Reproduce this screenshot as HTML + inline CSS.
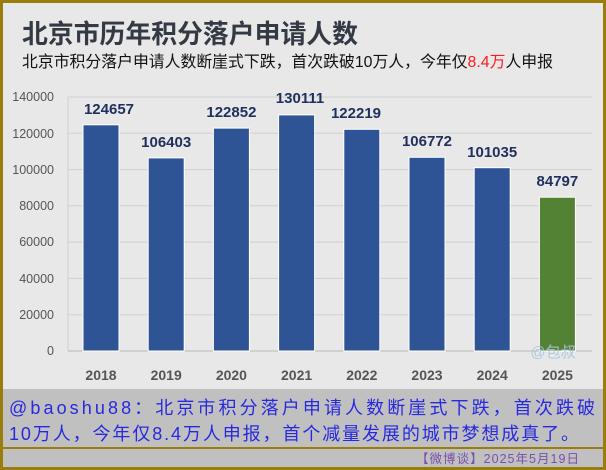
<!DOCTYPE html>
<html><head><meta charset="utf-8"><style>
body{margin:0;width:606px;height:470px;overflow:hidden;background:#9a7d0c;}
svg{display:block}
</style></head><body>
<svg width="606" height="470" xmlns="http://www.w3.org/2000/svg" font-family="'Liberation Sans','Noto Sans CJK SC',sans-serif">
<rect x="0" y="0" width="606" height="470" fill="#9a7d0c"/>
<rect x="3" y="3" width="600" height="386" fill="#e8e8e8"/>
<rect x="3" y="389" width="600" height="58" fill="#c0c0c0"/>
<rect x="3" y="447" width="600" height="2" fill="#9a7d0c"/>
<rect x="3" y="449" width="600" height="18" fill="#c0c0c0"/>
<text x="22" y="43" font-size="26" font-weight="bold" fill="#333a44" textLength="336" lengthAdjust="spacingAndGlyphs">北京市历年积分落户申请人数</text>
<text x="22" y="67" font-size="16" fill="#111" textLength="531" lengthAdjust="spacingAndGlyphs">北京市积分落户申请人数断崖式下跌，首次跌破10万人，今年仅<tspan fill="#ff1a1a">8.4万</tspan>人申报</text>
<g stroke="#cfcfcf" stroke-width="1">
<line x1="68" x2="592" y1="97" y2="97"/><line x1="68" x2="592" y1="133.3" y2="133.3"/><line x1="68" x2="592" y1="169.6" y2="169.6"/><line x1="68" x2="592" y1="205.8" y2="205.8"/><line x1="68" x2="592" y1="242.1" y2="242.1"/><line x1="68" x2="592" y1="278.4" y2="278.4"/><line x1="68" x2="592" y1="314.7" y2="314.7"/>
<line x1="68" x2="68" y1="97" y2="351"/>
</g>
<line x1="68" x2="592" y1="351" y2="351" stroke="#b8b8b8"/>
<g font-size="12.5" fill="#555" text-anchor="end">
<text x="54" y="101">140000</text><text x="54" y="138">120000</text><text x="54" y="174">100000</text><text x="54" y="210">80000</text><text x="54" y="246">60000</text><text x="54" y="283">40000</text><text x="54" y="319">20000</text><text x="54" y="355">0</text>
</g>
<g stroke="#fff" stroke-width="1">
<rect x="83" y="124.8" width="36" height="226.2" fill="#2e5496"/>
<rect x="148.2" y="157.9" width="36" height="193.1" fill="#2e5496"/>
<rect x="213.4" y="128.1" width="36" height="222.9" fill="#2e5496"/>
<rect x="278.6" y="114.9" width="36" height="236.1" fill="#2e5496"/>
<rect x="343.8" y="129.3" width="36" height="221.7" fill="#2e5496"/>
<rect x="409" y="157.3" width="36" height="193.7" fill="#2e5496"/>
<rect x="474.2" y="167.7" width="36" height="183.3" fill="#2e5496"/>
<rect x="539.4" y="197.2" width="36" height="153.8" fill="#548235"/>
</g>
<g font-size="15" font-weight="bold" fill="#1f2f5e" text-anchor="middle">
<text x="109" y="114">124657</text><text x="166.2" y="147">106403</text><text x="231.4" y="117">122852</text><text x="300" y="103">130111</text><text x="356" y="118">122219</text><text x="427" y="146">106772</text><text x="492.2" y="157">101035</text><text x="557.4" y="186">84797</text>
</g>
<text x="553" y="357" font-size="15" fill="#a9c4e0" text-anchor="middle" opacity="0.9">@包叔</text>
<g font-size="14" font-weight="bold" fill="#555" text-anchor="middle">
<text x="101" y="380">2018</text><text x="166.2" y="380">2019</text><text x="231.4" y="380">2020</text><text x="296.6" y="380">2021</text><text x="361.8" y="380">2022</text><text x="427" y="380">2023</text><text x="492.2" y="380">2024</text><text x="557.4" y="380">2025</text>
</g>
<text x="9" y="414" font-size="18" fill="#2828e0" textLength="586" lengthAdjust="spacing">@baoshu88：北京市积分落户申请人数断崖式下跌，首次跌破</text>
<text x="9" y="440" font-size="18" fill="#2828e0" textLength="570" lengthAdjust="spacing">10万人，今年仅8.4万人申报，首个减量发展的城市梦想成真了。</text>
<text x="416" y="463" font-size="12.5" fill="#7a4fb0" textLength="163" lengthAdjust="spacing">【微博谈】2025年5月19日</text>
</svg>
</body></html>
